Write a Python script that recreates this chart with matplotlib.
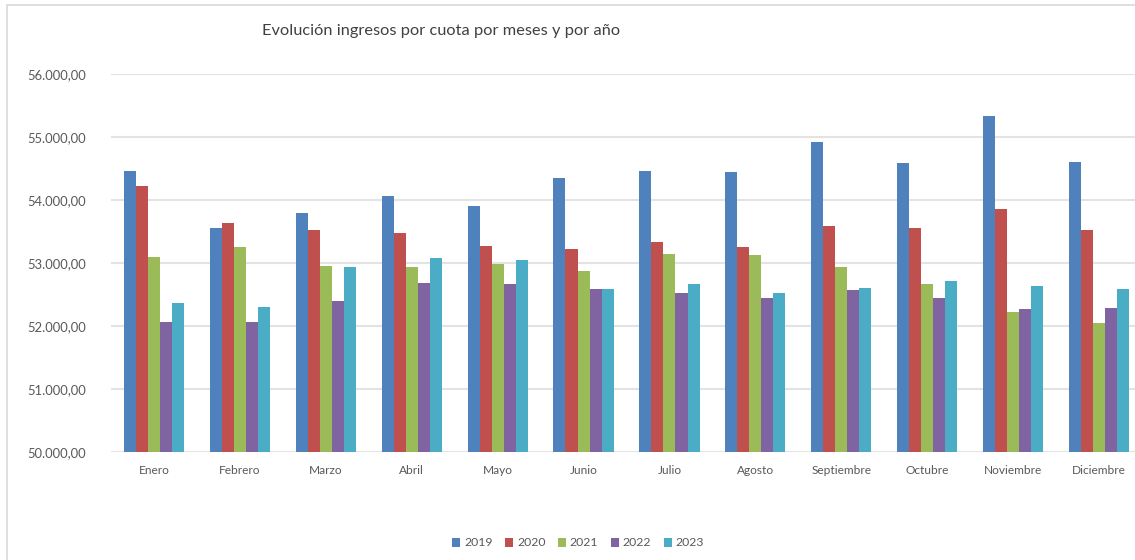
import numpy as np
import matplotlib.pyplot as plt
from matplotlib.patches import Rectangle
from matplotlib.ticker import FuncFormatter

meses = ["Enero", "Febrero", "Marzo", "Abril", "Mayo", "Junio", "Julio",
         "Agosto", "Septiembre", "Octubre", "Noviembre", "Diciembre"]
anios = ["2019", "2020", "2021", "2022", "2023"]

v2019 = [54460, 53550, 53790, 54060, 53900, 54350, 54460, 54440, 54920, 54580, 55330, 54610]
v2020 = [54230, 53640, 53530, 53470, 53270, 53220, 53330, 53250, 53580, 53550, 53860, 53520]
v2021 = [53090, 53250, 52950, 52930, 52990, 52870, 53140, 53120, 52930, 52660, 52220, 52050]
v2022 = [52070, 52070, 52400, 52690, 52660, 52580, 52530, 52440, 52570, 52440, 52270, 52290]
v2023 = [52360, 52300, 52940, 53080, 53050, 52580, 52660, 52530, 52610, 52710, 52630, 52580]

series = [v2019, v2020, v2021, v2022, v2023]
colores = ["#4F81BD", "#C0504D", "#9BBB59", "#8064A2", "#4BACC6"]

plt.rcParams["font.family"] = ["Lato", "DejaVu Sans"]

fig = plt.figure(figsize=(11.35, 5.6), dpi=100)
ax = fig.add_axes([111 / 1135, 1 - 452 / 560, 1031 / 1135, 378 / 560])

x = np.arange(len(meses))
ancho = 0.14
for i, (vals, col, anio) in enumerate(zip(series, colores, anios)):
    ax.bar(x + (i - 2) * ancho, np.array(vals) - 50000, bottom=50000,
           width=ancho, color=col, label=anio, zorder=3)

ax.set_ylim(50000, 56000)
ax.set_xlim(-0.5, 11.5)
ax.set_yticks(np.arange(50000, 56001, 1000))
ax.yaxis.set_major_formatter(FuncFormatter(
    lambda v, p: f"{v:,.2f}".replace(",", "X").replace(".", ",").replace("X", ".")))
ax.set_xticks(x)
ax.set_xticklabels(meses)
ax.tick_params(axis="both", length=0, labelcolor="#595959")
ax.tick_params(axis="x", pad=9, labelsize=8.6)
ax.tick_params(axis="y", pad=18, labelsize=9.4)
ax.grid(axis="y", color="#E3E3E3", linewidth=1.5, zorder=0)
for s in ax.spines.values():
    s.set_visible(False)

fig.text(262 / 1135, 1 - 31 / 560, "Evolución ingresos por cuota por meses y por año",
         fontsize=11.8, color="#404040", va="center", ha="left")

fig.legend(loc="center", bbox_to_anchor=(578 / 1135, 1 - 543 / 560), ncol=5,
           frameon=False, fontsize=8.8, handlelength=0.7, handleheight=0.7,
           handletextpad=0.3, columnspacing=1.0, labelcolor="#595959")

fig.patches.append(Rectangle((7 / 1135, -0.1), 1.1, 1 - 5 / 560 + 0.1,
                             transform=fig.transFigure, fill=False,
                             edgecolor="#D9D9D9", linewidth=1.2))

fig.savefig("out.png", dpi=100)
